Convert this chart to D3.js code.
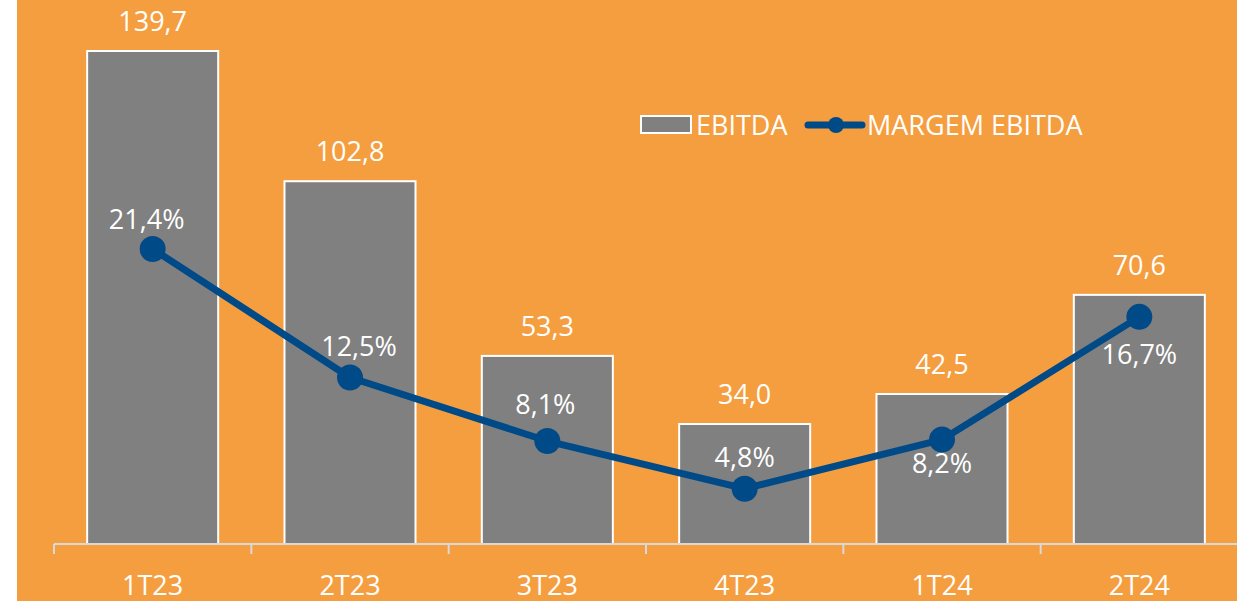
<!DOCTYPE html>
<html>
<head>
<meta charset="utf-8">
<script src="https://cdn.jsdelivr.net/npm/d3@7"></script>
<style>
  html, body { margin: 0; padding: 0; background: #fff; }
  svg text { font-family: "Open Sans", "Noto Sans", sans-serif; fill: #fff; }
</style>
</head>
<body>
<div id="chart"></div>
<script>
const quarters = ["1T23", "2T23", "3T23", "4T23", "1T24", "2T24"];
const ebitda = [139.7, 102.8, 53.3, 34.0, 42.5, 70.6];
const margem = [21.4, 12.5, 8.1, 4.8, 8.2, 16.7];

const width = 1237, height = 601;
const fontSize = "27px";
const fmt = v => v.toFixed(1).replace(".", ",");
// vertical offset of each margin label from its point (manually placed in the source)
const labelDy = [-20, -22, -27, -22, 33, 47];
const labelDx = [-6, 9, -2, 0, 0, 0];

const svg = d3.select("#chart").append("svg")
  .attr("width", width)
  .attr("height", height);

// orange panel, white strip on the left
svg.append("rect")
  .attr("x", 17).attr("y", 0)
  .attr("width", width - 17).attr("height", height)
  .attr("fill", "#F59E40");

const x = d3.scaleBand().domain(quarters).range([54, 1238]).paddingInner(0.336).paddingOuter(0.168);
const y = d3.scaleLinear().domain([0, 139.7]).range([544, 51]);
const y2 = d3.scaleLinear().domain([0, 21.4]).range([558, 249]);

// bars
svg.selectAll(".bar")
  .data(quarters)
  .enter().append("rect")
  .attr("class", "bar")
  .attr("x", d => x(d))
  .attr("y", (d, i) => y(ebitda[i]))
  .attr("width", x.bandwidth())
  .attr("height", (d, i) => y(0) - y(ebitda[i]))
  .attr("fill", "#808080")
  .attr("stroke", "#fff")
  .attr("stroke-width", 2);

// category axis
const axis = svg.append("g").attr("transform", `translate(0,${y(0)})`);
axis.append("line")
  .attr("x1", 54).attr("x2", width)
  .attr("stroke", "#D9D9D9").attr("stroke-width", 2);
const tickPos = quarters.map(d => x(d) - x.step() * x.paddingInner() / 2);
tickPos.push(1238);
axis.selectAll(".tick")
  .data(tickPos)
  .enter().append("line")
  .attr("x1", d => d).attr("x2", d => d)
  .attr("y1", 0).attr("y2", 10)
  .attr("stroke", "#D9D9D9").attr("stroke-width", 2);
axis.selectAll(".cat")
  .data(quarters)
  .enter().append("text")
  .attr("x", d => x(d) + x.bandwidth() / 2)
  .attr("y", 51)
  .attr("text-anchor", "middle")
  .style("font-size", fontSize)
  .text(d => d);

// bar value labels
svg.selectAll(".barlab")
  .data(quarters)
  .enter().append("text")
  .attr("x", d => x(d) + x.bandwidth() / 2)
  .attr("y", (d, i) => y(ebitda[i]) - 20)
  .attr("text-anchor", "middle")
  .style("font-size", fontSize)
  .text((d, i) => fmt(ebitda[i]));

// margin line
const cx = d => x(d) + x.bandwidth() / 2;
const line = d3.line()
  .x(d => cx(d))
  .y((d, i) => y2(margem[i]));
svg.append("path")
  .datum(quarters)
  .attr("d", line)
  .attr("fill", "none")
  .attr("stroke", "#004A87")
  .attr("stroke-width", 7)
  .attr("stroke-linejoin", "round");
svg.selectAll(".dot")
  .data(quarters)
  .enter().append("circle")
  .attr("cx", d => cx(d))
  .attr("cy", (d, i) => y2(margem[i]))
  .attr("r", 13)
  .attr("fill", "#004A87");

svg.selectAll(".linelab")
  .data(quarters)
  .enter().append("text")
  .attr("x", (d, i) => cx(d) + labelDx[i])
  .attr("y", (d, i) => y2(margem[i]) + labelDy[i])
  .attr("text-anchor", "middle")
  .style("font-size", fontSize)
  .text((d, i) => fmt(margem[i]) + "%");

// legend
const legend = svg.append("g").attr("transform", "translate(640,115)");
legend.append("rect")
  .attr("x", 1).attr("y", 1)
  .attr("width", 50).attr("height", 17)
  .attr("fill", "#808080")
  .attr("stroke", "#fff")
  .attr("stroke-width", 2);
legend.append("text")
  .attr("x", 56).attr("y", 20)
  .style("font-size", fontSize)
  .text("EBITDA");
legend.append("line")
  .attr("x1", 168).attr("x2", 222)
  .attr("y1", 10).attr("y2", 10)
  .attr("stroke", "#004A87")
  .attr("stroke-width", 7)
  .attr("stroke-linecap", "round");
legend.append("circle")
  .attr("cx", 196).attr("cy", 10).attr("r", 8)
  .attr("fill", "#004A87");
legend.append("text")
  .attr("x", 227).attr("y", 20)
  .style("font-size", fontSize)
  .text("MARGEM EBITDA");
</script>
</body>
</html>
